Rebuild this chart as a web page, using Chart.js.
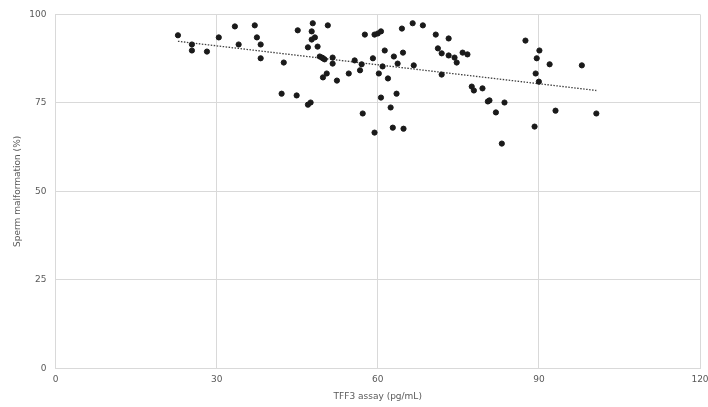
<!DOCTYPE html>
<html lang="en">
<head>
    <meta charset="UTF-8">
    <title>TFF3 vs sperm malformation</title>
    <script src="https://cdn.jsdelivr.net/npm/chart.js"></script>
    <style>
        html, body { margin: 0; padding: 0; background: #fff; }
        #wrap { width: 708px; height: 407px; }
    </style>
</head>
<body>
    <div id="wrap"><canvas id="scatterChart" width="708" height="407"></canvas></div>

    <script>
        // TFF3 assay (pg/mL) and sperm malformation (%)
        const tff3 = [
            22.8, 25.4, 25.4, 28.2, 30.4, 33.4, 34.1, 37.1, 37.5, 38.2,
            38.2, 42.5, 42.1, 45.1, 44.9, 47.9, 47.7, 47.7, 48.3, 50.7,
            47.0, 48.8, 49.2, 49.6, 49.8, 50.1, 51.6, 51.6, 50.5, 49.8,
            52.4, 47.0, 47.5, 54.6, 55.7, 56.7, 57.0, 57.6, 57.2, 59.1,
            59.4, 60.0, 60.6, 61.3, 60.9, 60.2, 61.9, 60.6, 62.4, 63.0,
            63.7, 63.5, 64.7, 64.5, 66.5, 66.7, 59.4, 62.8, 64.8, 68.4,
            70.8, 73.2, 71.2, 71.9, 73.2, 74.3, 74.7, 75.8, 76.7, 71.9,
            77.5, 77.9, 79.5, 80.5, 80.8, 83.6, 82.0, 83.1, 87.5, 90.1,
            89.6, 89.4, 90.0, 92.0, 89.2, 93.1, 98.0, 100.7
        ];
        const malformation = [
            94.1, 91.5, 89.8, 89.5, 93.5, 96.6, 91.5, 96.9, 93.5, 91.5,
            87.6, 86.4, 77.6, 95.5, 77.1, 97.5, 95.2, 92.9, 93.5, 96.9,
            90.7, 90.9, 88.1, 87.8, 87.6, 87.3, 87.8, 86.1, 83.3, 82.2,
            81.3, 74.5, 75.1, 83.3, 87.0, 84.2, 85.9, 94.3, 72.0, 87.6,
            94.3, 94.6, 95.2, 89.8, 85.3, 83.3, 81.9, 76.5, 73.7, 88.1,
            86.1, 77.6, 89.2, 96.0, 97.5, 85.6, 66.6, 68.0, 67.7, 96.9,
            94.3, 93.2, 90.4, 89.0, 88.4, 87.8, 86.4, 89.2, 88.7, 83.0,
            79.6, 78.5, 79.1, 75.4, 75.7, 75.1, 72.3, 63.5, 92.6, 89.8,
            87.6, 83.3, 81.0, 85.9, 68.3, 72.8, 85.6, 72.0
        ];

        // dotted linear trendline, end points
        const trendX = [22.8, 100.7];
        const trendY = [92.4, 78.5];

        const xTicks = [0, 30, 60, 90, 120];
        const yTicks = [0, 25, 50, 75, 100];

        const textColor = '#595959';
        const gridColor = '#d9d9d9';
        const tickFont = { family: 'DejaVu Sans', size: 9 };

        const points = tff3.map((x, i) => ({ x: x, y: malformation[i] }));
        const trend = trendX.map((x, i) => ({ x: x, y: trendY[i] }));

        new Chart(document.getElementById('scatterChart'), {
            type: 'scatter',
            data: {
                datasets: [
                    {
                        label: 'Sperm malformation',
                        data: points,
                        backgroundColor: '#1a1a1a',
                        borderColor: '#1a1a1a',
                        pointRadius: 2.6,
                        pointHoverRadius: 2.6
                    },
                    {
                        label: 'Linear trend',
                        type: 'line',
                        data: trend,
                        borderColor: '#404040',
                        borderWidth: 1.3,
                        borderDash: [1.5, 1.5],
                        pointRadius: 0,
                        fill: false
                    }
                ]
            },
            options: {
                responsive: false,
                animation: false,
                layout: { padding: { top: 14, right: 0, left: 0, bottom: 0 } },
                plugins: {
                    legend: { display: false },
                    tooltip: { enabled: false }
                },
                scales: {
                    x: {
                        type: 'linear',
                        min: 0,
                        max: 120,
                        afterBuildTicks: s => { s.ticks = xTicks.map(v => ({ value: v })); },
                        afterFit: s => {
                            s.height = 38.7;
                            s.paddingLeft = 0;
                            s.paddingRight = 8;
                        },
                        grid: { color: gridColor, drawTicks: false },
                        border: { color: gridColor },
                        ticks: { color: textColor, font: tickFont, padding: 6 },
                        title: {
                            display: true,
                            text: 'TFF3 assay (pg/mL)',
                            color: textColor,
                            font: tickFont,
                            padding: { top: 4, bottom: 4.5 }
                        }
                    },
                    y: {
                        min: 0,
                        max: 100,
                        afterBuildTicks: s => { s.ticks = yTicks.map(v => ({ value: v })); },
                        afterFit: s => { s.width = 55.5; },
                        grid: { color: gridColor, drawTicks: false },
                        border: { color: gridColor },
                        ticks: { color: textColor, font: tickFont, padding: 9 },
                        title: {
                            display: true,
                            text: 'Sperm malformation (%)',
                            color: textColor,
                            font: tickFont,
                            padding: { top: 12.5, bottom: 0 }
                        }
                    }
                }
            }
        });
    </script>
</body>
</html>
